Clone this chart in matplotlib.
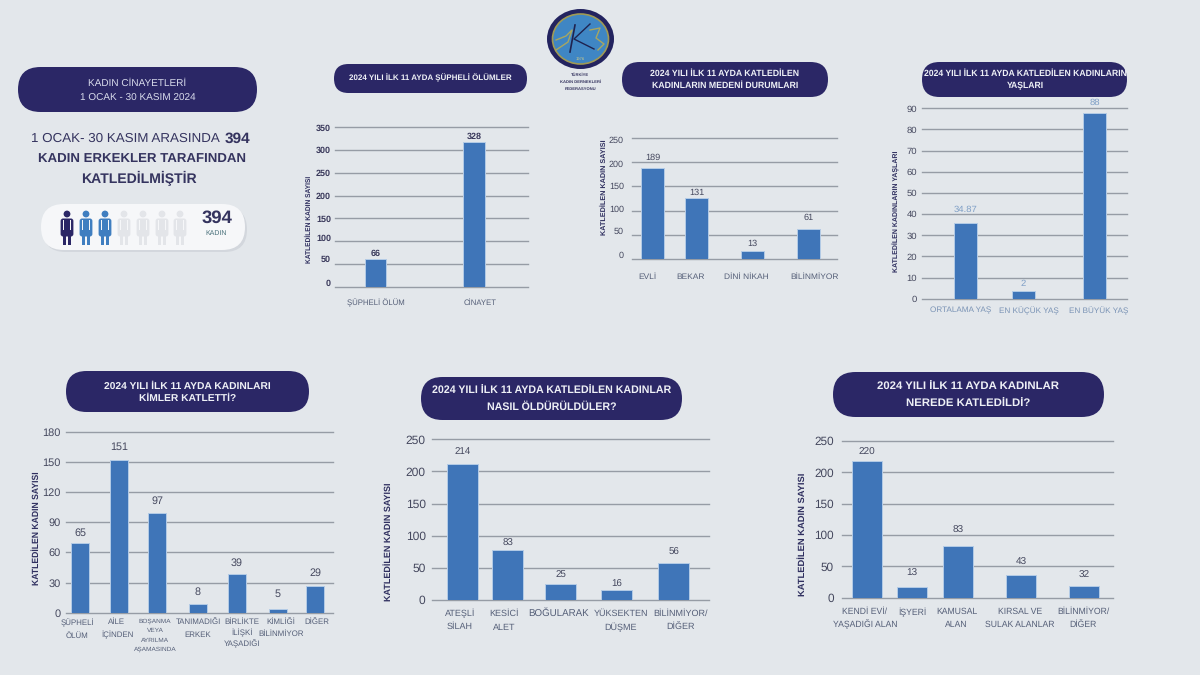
import matplotlib
matplotlib.use("Agg")
import matplotlib.pyplot as plt
from matplotlib.patches import FancyBboxPatch, Ellipse, Circle, Rectangle
from matplotlib.transforms import ScaledTranslation

plt.rcParams['font.family'] = ['Liberation Sans', 'DejaVu Sans']
plt.rcParams['text.hinting'] = 'none'
plt.rcParams['text.hinting_factor'] = 8

# ---------- data ----------
suspect_cats = ["ŞÜPHELİ ÖLÜM", "CİNAYET"]
suspect_heights = [61, 318]
suspect_labels = ["66", "328"]

marital_cats = ["EVLİ", "BEKAR", "DİNİ NİKAH", "BİLİNMİYOR"]
marital_heights = [188.6, 127, 16, 62]
marital_labels = ["189", "131", "13", "61"]

age_cats = ["ORTALAMA YAŞ", "EN KÜÇÜK YAŞ", "EN BÜYÜK YAŞ"]
age_heights = [35.9, 3.5, 88]
age_labels = ["34.87", "2", "88"]

who_cats = ["ŞÜPHELİ\nÖLÜM", "AİLE\nİÇİNDEN", "BOŞANMA\nVEYA\nAYRILMA\nAŞAMASINDA", "TANIMADIĞI\nERKEK",
            "BİRLİKTE\nİLİŞKİ\nYAŞADIĞI", "KİMLİĞİ\nBİLİNMİYOR", "DİĞER"]
who_heights = [69, 152, 99.5, 8.3, 38.5, 3.7, 26.5]
who_labels = ["65", "151", "97", "8", "39", "5", "29"]

how_cats = ["ATEŞLİ\nSİLAH", "KESİCİ\nALET", "BOĞULARAK", "YÜKSEKTEN\nDÜŞME", "BİLİNMİYOR/\nDİĞER"]
how_heights = [211, 77.3, 24.4, 15.6, 57]
how_labels = ["214", "83", "25", "16", "56"]

where_cats = ["KENDİ EVİ/\nYAŞADIĞI ALAN", "İŞYERİ", "KAMUSAL\nALAN", "KIRSAL VE\nSULAK ALANLAR", "BİLİNMİYOR/\nDİĞER"]
where_heights = [217.6, 17.5, 83, 36, 18.7]
where_labels = ["220", "13", "83", "43", "32"]

# ---------- styles ----------
BG = '#e3e7eb'
NAVY = '#2b2766'
BAR = '#3f75b8'
HALO = '#b4cbe6'
GRID = '#969ca5'
INK = '#45485e'
XINK = '#555f78'
YINK = '#2f2f5f'
W, H = 1200, 675
PT = 0.72  # points per pixel at dpi 100

fig = plt.figure(figsize=(12, 6.75), dpi=100, facecolor=BG)
bg = fig.add_axes([0, 0, 1, 1], zorder=0)
bg.set_xlim(0, W)
bg.set_ylim(H, 0)
bg.axis('off')


def pill(x0, x1, y0, y1, color=NAVY, z=1, **kw):
    h = y1 - y0
    bg.add_patch(FancyBboxPatch((x0, y0), x1 - x0, h, boxstyle=f"round,pad=0,rounding_size={h/2}",
                                fc=color, ec='none', zorder=z, **kw))


def chart(x0, x1, ytop, ybot, ymax, yticks, centres, width, heights, labels, gaps, cats, label_x,
          xpad, xsize, xls=None, xcolor=XINK, ysize=9, yweight='normal', ycolor=INK, ypad=5, yshift=None,
          vsize=9, vweight='normal', vcolor=INK, ylab="KATLEDİLEN KADIN SAYISI", ylab_x=0, ylab_y=0, ylab_size=6):
    ax = fig.add_axes([x0 / W, 1 - ybot / H, (x1 - x0) / W, (ybot - ytop) / H], zorder=2)
    ax.patch.set_alpha(0)
    ax.set_xlim(x0, x1)
    ax.set_ylim(0, ymax)
    for s in ax.spines.values():
        s.set_visible(False)
    ax.set_axisbelow(True)
    ax.set_yticks(yticks)
    ax.yaxis.grid(True, color=GRID, lw=1.0)
    for gl in ax.get_ygridlines():
        gl.set_clip_on(False)
    ax.xaxis.grid(False)
    ax.tick_params(axis='y', length=0, pad=ypad * PT, labelsize=ysize * PT, labelcolor=ycolor)
    for t in ax.get_yticklabels():
        t.set_fontweight(yweight)
    if yshift:
        for tick, s in zip(ax.yaxis.get_major_ticks(), yshift):
            tick.label1.set_transform(tick.label1.get_transform() + ScaledTranslation(0, -s / 100, fig.dpi_scale_trans))
    ax.bar(centres, heights, width=width, color=BAR, edgecolor=HALO, linewidth=0.7, zorder=3)
    for c, h, l, g in zip(centres, heights, labels, gaps):
        ax.annotate(l, (c, h), xytext=(0, g * PT), textcoords='offset points', ha='center', va='center',
                    fontsize=vsize * PT, color=vcolor, fontweight=vweight, zorder=4)
    ax.set_xticks(label_x)
    ax.set_xticklabels(cats, fontsize=xsize * PT, color=xcolor, ha='center', va='top')
    if xls:
        for t, ls in zip(ax.get_xticklabels(), xls):
            t.set_linespacing(ls)
    ax.tick_params(axis='x', length=0, pad=xpad * PT)
    bg.text(ylab_x, ylab_y, ylab, rotation=90, ha='center', va='center', fontsize=ylab_size * PT,
            fontweight='bold', color=YINK, zorder=5)
    return ax


# ---------- left panel ----------
pill(18, 257, 67, 112)
bg.text(137.5, 83, "KADIN CİNAYETLERİ", color='#d9dcec', fontsize=10 * PT, ha='center', va='center', zorder=3)
bg.text(137.5, 98, "1 OCAK - 30 KASIM 2024", color='#d9dcec', fontsize=10 * PT, ha='center', va='center', zorder=3)

DARK = '#35345f'
bg.text(220, 139, "1 OCAK- 30 KASIM ARASINDA", color=DARK, fontsize=13.4 * PT, ha='right', va='center')
bg.text(250, 139, "394", color=DARK, fontsize=15.4 * PT, fontweight='bold', ha='right', va='center')
bg.text(142, 159, "KADIN ERKEKLER TARAFINDAN", color=DARK, fontsize=13.2 * PT, fontweight='bold', ha='center', va='center')
bg.text(139, 178, "KATLEDİLMİŞTİR", color=DARK, fontsize=14 * PT, fontweight='bold', ha='center', va='center')

pill(43, 247, 207, 252, color='#d3d7dd', z=1)
pill(41, 245, 204, 250, color='#f6f7f9', z=2)


def person(cx, color, arm):
    bg.add_patch(Circle((cx, 214), 3.4, fc=color, ec='none', zorder=3))
    bg.add_patch(FancyBboxPatch((cx - 6.4, 218.5), 12.8, 18, boxstyle="round,pad=0,rounding_size=2.5", fc=color, ec='none', zorder=3))
    bg.add_patch(Rectangle((cx - 4.2, 236), 3.6, 8.5, fc=color, ec='none', zorder=3))
    bg.add_patch(Rectangle((cx + 0.6, 236), 3.6, 8.5, fc=color, ec='none', zorder=3))
    bg.add_patch(Rectangle((cx - 4.1, 220), 0.7, 10, fc=arm, ec='none', zorder=4))
    bg.add_patch(Rectangle((cx + 3.4, 220), 0.7, 10, fc=arm, ec='none', zorder=4))


for cx, col in zip([67, 86, 105, 124, 143, 162, 180],
                   [NAVY, '#3f7ec0', '#3f7ec0', '#e3e5e9', '#e3e5e9', '#e3e5e9', '#e3e5e9']):
    person(cx, col, '#f6f7f9')
bg.text(217, 218, "394", color=DARK, fontsize=18.5 * PT, fontweight='bold', ha='center', va='center', zorder=4)
bg.text(216, 233, "KADIN", color='#48707a', fontsize=7 * PT, ha='center', va='center', zorder=4)

# ---------- logo ----------
bg.add_patch(Ellipse((580.5, 39), 67, 60, fc='#23235f', ec='none', zorder=3))
bg.add_patch(Ellipse((580.5, 39), 56, 50, fc='#3f86c4', ec='#a09a55', lw=1.2, zorder=4))
bg.plot([575, 570], [25, 52], color='#1f2350', lw=1.2, zorder=5)
bg.plot([590, 574, 594], [24, 39, 49], color='#1f2350', lw=1.0, zorder=5)
bg.plot([556, 568, 572, 566, 556], [50, 42, 30, 36, 40], color='#a8a661', lw=1.0, zorder=5)
bg.plot([590, 600, 596, 604, 598], [30, 28, 38, 44, 50], color='#a8a661', lw=1.0, zorder=5)
bg.text(580.5, 59, "1976", color='#c9c98a', fontsize=3, ha='center', va='center', zorder=6)
for y, s in zip([75, 81.7, 89], ["TÜRKİYE", "KADIN DERNEKLERİ", "FEDERASYONU"]):
    bg.text(580.5, y, s, color=DARK, fontsize=4.1 * PT, fontweight='bold', ha='center', va='center')

# ---------- title pills ----------
titles = [
    (334, 527, 64, 93, 430.5, [78], ["2024 YILI İLK 11 AYDA ŞÜPHELİ ÖLÜMLER"], 8.0),
    (622, 828, 62, 97, 725, [74, 86], ["2024 YILI İLK 11 AYDA KATLEDİLEN", "KADINLARIN MEDENİ DURUMLARI"], 8.8),
    (922, 1127, 62, 97, 1025, [74, 86], ["2024 YILI İLK 11 AYDA KATLEDİLEN KADINLARIN", "YAŞLARI"], 8.6),
    (66, 309, 371, 412, 187.7, [386, 398.7], ["2024 YILI İLK 11 AYDA KADINLARI", "KİMLER KATLETTİ?"], 10.3),
    (421, 682, 377, 420, 551.7, [391, 406.7], ["2024 YILI İLK 11 AYDA KATLEDİLEN KADINLAR", "NASIL ÖLDÜRÜLDÜLER?"], 10.6),
    (833, 1104, 372, 417, 967.7, [386.7, 402.7], ["2024 YILI İLK 11 AYDA KADINLAR", "NEREDE KATLEDİLDİ?"], 11.4),
]
for x0, x1, y0, y1, cx, ys, lines, fs in titles:
    pill(x0, x1, y0, y1)
    for y, s in zip(ys, lines):
        bg.text(cx, y, s, color='#eef0f6', fontsize=fs * PT, fontweight='bold', ha='center', va='center', zorder=3)

# ---------- charts ----------
chart(335, 528, 127.3, 286.7, 350, list(range(0, 351, 50)), [375.5, 474], 21.5, suspect_heights, suspect_labels, [5, 5],
      suspect_cats, [375.7, 480], 12, 7.8, ysize=9, yweight='bold', ycolor='#3b3a5c', ypad=4,
      yshift=[-4, -5, -4, 0, 0, 0, 0, 0], vsize=9, vweight='bold', vcolor='#3b3a5c',
      ylab_x=309.3, ylab_y=219, ylab_size=6.7)

chart(632, 837, 138, 259, 250, list(range(0, 251, 50)), [653, 696.5, 752.5, 808.5], 23, marital_heights, marital_labels, [10, 5, 8, 11],
      marital_cats, [647.7, 690.7, 746.7, 815], 14, 8.4, ysize=9, ypad=8,
      yshift=[-4, -4, -2, -1, 1, 2], vsize=9.2, ylab_x=604, ylab_y=187, ylab_size=7.3)

chart(922.3, 1127, 108.3, 298.7, 90, list(range(0, 91, 10)), [965.5, 1023.5, 1094.5], 23, age_heights, age_labels, [13, 8, 10],
      age_cats, [961, 1029, 1099], 8, 8.2, xcolor='#7a93b5', ysize=9.5, ypad=5, vsize=9.5, vcolor='#7f9fc6',
      ylab="KATLEDİLEN KADINLARIN YAŞLARI", ylab_x=895.7, ylab_y=211.7, ylab_size=7.0)

ax4 = chart(66, 333, 431.7, 612.7, 180, list(range(0, 181, 30)), [80, 119, 157, 198, 237, 278, 315], 18, who_heights, who_labels,
            [10, 12.5, 12, 12, 11, 15, 13], who_cats, [77, 117, 155, 198, 242, 281, 316.5], 6, 7.9,
            xls=[1.9, 1.6, 1.85, 1.8, 1.35, 1.65, 1], ysize=11, ypad=5,
            vsize=10.8, ylab_x=36.7, ylab_y=528, ylab_size=8.6)
ax4.get_xticklabels()[2].set_fontsize(6.5 * PT)

ax5 = chart(431.7, 709, 439.3, 600, 250, list(range(0, 251, 50)), [462.7, 507.5, 560.5, 616.5, 673.7], 30.7, how_heights, how_labels,
            [13, 6.6, 9, 6, 10.6], how_cats, [460, 504, 559, 620.7, 680.7], 9, 9.0,
            xls=[1.6, 1.9, 1, 1.65, 1.83], ysize=12, ypad=6,
            vsize=9.8, ylab_x=389, ylab_y=541.7, ylab_size=9.0)
ax5.get_xticklabels()[2].set_fontsize(9.8 * PT)

chart(841.7, 1113, 441, 597.7, 250, list(range(0, 251, 50)), [866.5, 912, 958, 1021, 1084], 30, where_heights, where_labels,
      [9, 13, 15.7, 13, 10.7], where_cats, [865, 912.7, 956.7, 1020, 1083], 10, 8.7,
      xls=[1.43, 1, 1.72, 1.73, 1.73], ysize=11.8, ypad=8,
      vsize=10, ylab_x=803, ylab_y=534, ylab_size=9.4)

fig.savefig("out.png", dpi=100, facecolor=BG)
